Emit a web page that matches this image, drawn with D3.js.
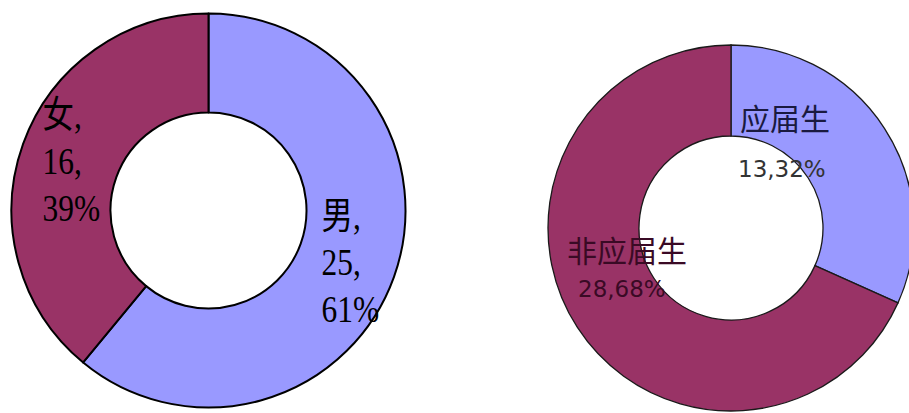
<!DOCTYPE html>
<html>
<head>
<meta charset="utf-8">
<script src="https://cdn.jsdelivr.net/npm/d3@7"></script>
<style>
  html, body { margin: 0; padding: 0; background: #ffffff; }
  svg { display: block; }
</style>
</head>
<body>
<svg id="chart" width="909" height="413"></svg>
<script>
// ---- data ----
const genderCategories = ["男", "女"];
const genderValues = [25, 16];
const genderPercents = ["61%", "39%"];

const gradCategories = ["应届生", "非应届生"];
const gradValues = [13, 28];
const gradPercents = ["32%", "68%"];

const colors = ["#9999FF", "#993366"];

const svg = d3.select("#chart");
const pie = d3.pie().sort(null).startAngle(0).endAngle(2 * Math.PI);

// ---- left donut ----
const L = { cx: 208.5, cy: 210.5, r0: 98, r1: 197 };
const gL = svg.append("g").attr("transform", `translate(${L.cx},${L.cy})`);
const arcL = d3.arc().innerRadius(L.r0).outerRadius(L.r1);
const leftData = genderCategories.map((c, i) => ({ cat: c, value: genderValues[i], pct: genderPercents[i] }));
gL.selectAll("path").data(pie.value(d => d.value)(leftData)).join("path")
  .attr("d", arcL)
  .attr("fill", (d, i) => colors[i])
  .attr("stroke", "#000")
  .attr("stroke-width", 2)
  .attr("stroke-linejoin", "round");

const leftLabelPos = [ { x: 113, y: 18 }, { x: -166, y: -83 } ];
const sx = 0.85;
leftData.forEach((d, i) => {
  const p = leftLabelPos[i];
  const t = gL.append("g")
    .attr("transform", `translate(${p.x},${p.y}) scale(${sx},1)`)
    .append("text")
    .attr("font-family", "'Liberation Serif', 'Noto Sans CJK SC', serif")
    .attr("font-size", 37)
    .attr("fill", "#000");
  const lines = [d.cat + ",", d.value + ",", d.pct];
  lines.forEach((s, k) => {
    t.append("tspan").attr("x", 0).attr("y", k * 47).text(s);
  });
});

// ---- right donut ----
const R = { cx: 731, cy: 228, r0: 92, r1: 183 };
const gR = svg.append("g").attr("transform", `translate(${R.cx},${R.cy})`);
const arcR = d3.arc().innerRadius(R.r0).outerRadius(R.r1);
const rightData = gradCategories.map((c, i) => ({ cat: c, value: gradValues[i], pct: gradPercents[i] }));
gR.selectAll("path").data(pie.value(d => d.value)(rightData)).join("path")
  .attr("d", arcR)
  .attr("fill", (d, i) => colors[i])
  .attr("stroke", "#1a1a1a")
  .attr("stroke-width", 1.3);

const rightLabelPos = [ { x: 9, y: -98, dy: 47 }, { x: -164, y: 34, dy: 35 } ];
const rightTextColors = ["#1a1a40", "#3a0a25"];
const rightNumColors = ["#333333", "#3a0a25"];
rightData.forEach((d, i) => {
  const p = rightLabelPos[i];
  gR.append("text")
    .attr("x", p.x).attr("y", p.y)
    .attr("font-family", "'Noto Sans CJK SC', sans-serif")
    .attr("font-size", 30)
    .attr("fill", rightTextColors[i])
    .text(d.cat);
  gR.append("text")
    .attr("x", p.x + (i === 1 ? 11 : -2)).attr("y", p.y + p.dy)
    .attr("font-family", "'DejaVu Sans', sans-serif")
    .attr("font-size", 23)
    .attr("fill", rightNumColors[i])
    .text(d.value + "," + d.pct);
});
</script>
</body>
</html>
